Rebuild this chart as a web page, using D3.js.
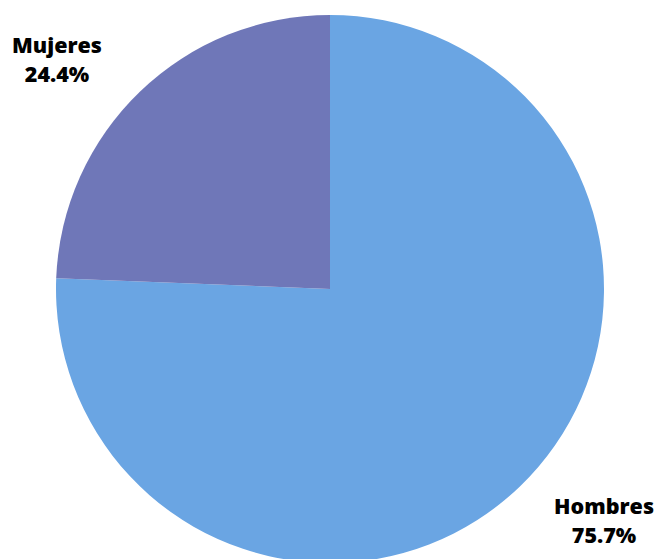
<!DOCTYPE html>
<html><head><meta charset="utf-8">
<script src="https://cdn.jsdelivr.net/npm/d3@7"></script>
<style>body{margin:0;background:#fff;}svg{display:block;}</style>
</head><body>
<svg id="c" width="656" height="559"></svg>
<script>
const categories = ["Hombres", "Mujeres"];
const values = [75.7, 24.4];
const labels = ["75.7%", "24.4%"];
const colors = ["#6aa5e3", "#6f77b8"];

const svg = d3.select("#c");
const cx = 330, cy = 289, r = 274;
const pie = d3.pie().sort(null).value(d => d)(values);
const arc = d3.arc().innerRadius(0).outerRadius(r);
const g = svg.append("g").attr("transform", `translate(${cx},${cy})`);
g.selectAll("path").data(pie).join("path")
  .attr("d", arc).attr("fill", (d, i) => colors[i]);

const labelPos = [[604, 514], [57, 53]];
const lg = svg.append("g").attr("font-family", "Open Sans, sans-serif")
  .attr("font-weight", 800).attr("font-size", 21.5).attr("text-anchor", "middle").attr("fill", "#000");
categories.forEach((c, i) => {
  const t = lg.append("text").attr("x", labelPos[i][0]).attr("y", labelPos[i][1]);
  t.append("tspan").attr("x", labelPos[i][0]).text(c);
  t.append("tspan").attr("x", labelPos[i][0]).attr("dy", 29).text(labels[i]);
});
</script>
</body></html>
